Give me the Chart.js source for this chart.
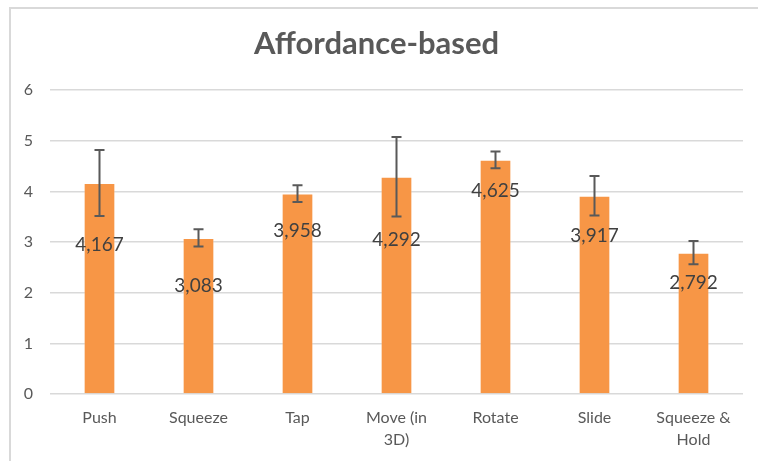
<!DOCTYPE html>
<html>
<head>
<meta charset="utf-8">
<script src="https://cdn.jsdelivr.net/npm/chart.js@4/dist/chart.umd.min.js"></script>
<style>
  html, body { margin: 0; padding: 0; background: #fff; overflow: hidden; }
  #wrap { position: relative; width: 758px; height: 461px; }
</style>
</head>
<body>
<div id="wrap"><canvas id="chart"></canvas></div>
<script>
  // chart data
  const categories = [["Push"], ["Squeeze"], ["Tap"], ["Move (in", "3D)"], ["Rotate"], ["Slide"], ["Squeeze &", "Hold"]];
  const means = [4.167, 3.083, 3.958, 4.292, 4.625, 3.917, 2.792];
  const errors = [0.65, 0.17, 0.165, 0.785, 0.165, 0.39, 0.23];
  const yTicks = [0, 1, 2, 3, 4, 5, 6];

  const FONT = "Lato, 'Open Sans', sans-serif";
  const GREY = "#595959";

  // chart area frame (only left and top edges are inside the picture)
  const frame = {
    id: "frame",
    beforeDraw(chart) {
      const ctx = chart.ctx;
      ctx.save();
      ctx.strokeStyle = "#d9d9d9";
      ctx.lineWidth = 2;
      ctx.beginPath();
      ctx.moveTo(10, chart.height + 5);
      ctx.lineTo(10, 8);
      ctx.lineTo(chart.width + 5, 8);
      ctx.stroke();
      ctx.restore();
    }
  };

  // error bars and value labels, drawn through the y scale
  const extras = {
    id: "extras",
    afterDatasetsDraw(chart, args, opts) {
      const ctx = chart.ctx;
      const y = chart.scales.y;
      const meta = chart.getDatasetMeta(0);
      ctx.save();
      meta.data.forEach((bar, i) => {
        const top = y.getPixelForValue(means[i] + errors[i]);
        const bot = y.getPixelForValue(means[i] - errors[i]);
        ctx.strokeStyle = GREY;
        ctx.lineWidth = 2;
        ctx.beginPath();
        ctx.moveTo(bar.x, top); ctx.lineTo(bar.x, bot);
        ctx.moveTo(bar.x - 5, top); ctx.lineTo(bar.x + 5, top);
        ctx.moveTo(bar.x - 5, bot); ctx.lineTo(bar.x + 5, bot);
        ctx.stroke();
      });
      ctx.fillStyle = "#404040";
      ctx.font = "19px " + FONT;
      ctx.textAlign = "center";
      ctx.textBaseline = "middle";
      meta.data.forEach((bar, i) => {
        const label = means[i].toFixed(3).replace(".", ",");
        ctx.fillText(label, bar.x, bar.y + opts.labelDy[i]);
      });
      ctx.restore();
    }
  };

  new Chart(document.getElementById("chart"), {
    type: "bar",
    data: {
      labels: categories,
      datasets: [{
        data: means,
        backgroundColor: "#f79646",
        borderColor: "rgba(255,255,255,0.25)",
        borderWidth: 1,
        categoryPercentage: 1,
        barPercentage: 0.32
      }]
    },
    options: {
      responsive: true,
      maintainAspectRatio: false,
      animation: false,
      layout: { padding: { left: 10, right: 15, top: 0, bottom: 0 } },
      plugins: {
        legend: { display: false },
        tooltip: { enabled: false },
        title: {
          display: true,
          text: "Affordance-based",
          color: GREY,
          font: { family: FONT, size: 31, weight: "bold" },
          padding: { top: 25, bottom: 28 }
        },
        extras: { labelDy: [62, 48, 37, 63, 31, 40, 30] }
      },
      scales: {
        x: {
          grid: { display: false, drawTicks: false },
          border: { display: false },
          ticks: { color: GREY, font: { family: FONT, size: 16, lineHeight: 1.35 }, padding: 13, maxRotation: 0 },
          afterFit(scale) { scale.height = 67; }
        },
        y: {
          min: 0,
          max: 6,
          afterBuildTicks(scale) { scale.ticks = yTicks.map(v => ({ value: v })); },
          grid: { color: "#d9d9d9", lineWidth: 1.5, drawTicks: false },
          border: { display: false },
          ticks: { color: GREY, font: { family: FONT, size: 16 }, padding: 17 },
          afterFit(scale) { scale.width = 40; }
        }
      }
    },
    plugins: [frame, extras]
  });
</script>
</body>
</html>
